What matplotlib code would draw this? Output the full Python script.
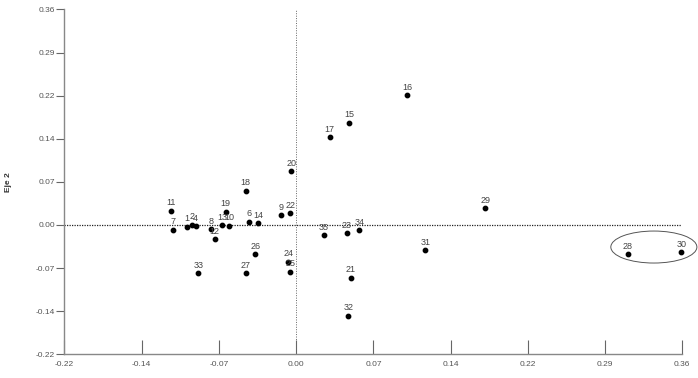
import numpy as np
import matplotlib
matplotlib.use('Agg')
import matplotlib.pyplot as plt
from matplotlib.patches import Ellipse

plt.rcParams['font.family'] = ['Liberation Sans', 'DejaVu Sans']

# Point labels and coordinates (Eje 1, Eje 2)
labels = ['1', '2', '4', '6', '7', '8', '9', '10', '11', '12', '13', '14', '15',
          '16', '17', '18', '19', '20', '21', '22', '23', '24', '25', '26', '27',
          '28', '29', '30', '31', '32', '33', '34', '35']
eje1 = [-0.1023, -0.0974, -0.0942, -0.0444, -0.1152, -0.0795, -0.0144, -0.0629,
        -0.1177, -0.0763, -0.0692, -0.0357, 0.0498, 0.1045, 0.0316, -0.0472,
        -0.0660, -0.0044, 0.0514, -0.0054, 0.0476, -0.0072, -0.0056, -0.0382,
        -0.0470, 0.3115, 0.1777, 0.3617, 0.1214, 0.0491, -0.0917, 0.0594, 0.0263]
eje2 = [-0.0030, 0.0005, -0.0017, 0.0055, -0.0079, -0.0072, 0.0168, -0.0012,
        0.0240, -0.0240, 0.0000, 0.0029, 0.1720, 0.2180, 0.1480, 0.0576,
        0.0224, 0.0908, -0.0890, 0.0202, -0.0134, -0.0617, -0.0785, -0.0487,
        -0.0812, -0.0487, 0.0281, -0.0459, -0.0425, -0.1524, -0.0812, -0.0089, -0.0173]

# axis ranges as drawn by the original program (tick labels are rounded)
x_range = (-0.2174, 0.3626)
y_range = (-0.2174, 0.3626)
tick_labels = ['-0.22', '-0.14', '-0.07', '0.00', '0.07', '0.14', '0.22', '0.29', '0.36']

# Group highlighted by the ellipse (28, 30)
group_center = (0.3359, -0.0370)
group_size = (0.0808, 0.0538)

fig = plt.figure(figsize=(6.98, 3.78), dpi=100)
ax = fig.add_axes([0.0924, 0.0627, 0.8851, 0.9123])
ax.set_xlim(*x_range)
ax.set_ylim(*y_range)

# reference lines through origin
ax.axvline(0, color='#666666', lw=0.7, ls=(0, (1, 1.5)), zorder=1)
ax.axhline(0, color='#222222', lw=0.9, ls=(0, (1, 1)), zorder=1)

ax.scatter(eje1, eje2, s=10, color='black', zorder=3, clip_on=False)
for lab, x, y in zip(labels, eje1, eje2):
    ax.annotate(lab, (x, y), xytext=(0, 2.5), textcoords='offset points',
                ha='center', va='bottom', fontsize=6.5, color='#444444',
                annotation_clip=False)

ell = Ellipse(group_center, group_size[0], group_size[1], fill=False,
              edgecolor='#555555', lw=0.7, clip_on=False)
ax.add_patch(ell)

for side in ['top', 'right']:
    ax.spines[side].set_visible(False)
for side in ['left', 'bottom']:
    ax.spines[side].set_color('#888888')
    ax.spines[side].set_linewidth(1.0)

ax.set_xticks(np.linspace(*x_range, 9))
ax.set_xticklabels(tick_labels)
ax.set_yticks(np.linspace(*y_range, 9))
ax.set_yticklabels(tick_labels)
ax.tick_params(axis='x', direction='in', length=10, width=0.8, color='#666666',
               labelsize=6, labelcolor='#555555', pad=5)
ax.tick_params(axis='y', direction='out', length=6, width=0.8, color='#666666',
               labelsize=6, labelcolor='#555555', pad=1)

ax.set_ylabel('Eje 2', fontsize=6, fontweight='bold', color='#333333', labelpad=17)

fig.savefig('out.png', dpi=100)
